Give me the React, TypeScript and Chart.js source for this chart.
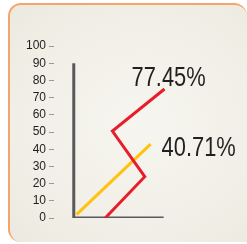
import React, { useEffect, useRef } from "react";
import { Chart, registerables } from "chart.js";

Chart.register(...registerables);

const yTicks = [0, 10, 20, 30, 40, 50, 60, 70, 80, 90, 100];
const redX = [35, 79, 43, 101];
const redY = [0, 24, 50.5, 75];
const yellowX = [3, 85.5];
const yellowY = [2, 43];
const axisX = [0, 0, 100];
const axisY = [90, 0, 0];
const seriesLabels = ["77.45%", "40.71%"];
const labelOffsets = [
  [-33, -3],
  [11, 12],
];

const toPts = (xs: number[], ys: number[]) => xs.map((x, i) => ({ x, y: ys[i] }));

const endLabels = {
  id: "endLabels",
  afterDatasetsDraw(chart: any) {
    const ctx = chart.ctx;
    [0, 1].forEach((di) => {
      const meta = chart.getDatasetMeta(di);
      const last = meta.data[meta.data.length - 1];
      ctx.save();
      ctx.font = '27px "Liberation Sans", Arial, sans-serif';
      ctx.fillStyle = "#231F20";
      ctx.textAlign = "left";
      ctx.textBaseline = "alphabetic";
      ctx.translate(last.x + labelOffsets[di][0], last.y + labelOffsets[di][1]);
      ctx.scale(0.81, 1);
      ctx.fillText(seriesLabels[di], 0, 0);
      ctx.restore();
    });
  },
};

export default function App() {
  const ref = useRef<HTMLCanvasElement | null>(null);
  useEffect(() => {
    if (!ref.current) return;
    const chart = new Chart(ref.current, {
      type: "scatter",
      data: {
        datasets: [
          {
            data: toPts(redX, redY),
            showLine: true,
            borderColor: "#E71E2A",
            borderWidth: 3,
            pointRadius: 0,
            borderJoinStyle: "miter",
            order: 1,
          },
          {
            data: toPts(yellowX, yellowY),
            showLine: true,
            borderColor: "#FFC20E",
            borderWidth: 3,
            pointRadius: 0,
            order: 2,
          },
          {
            data: toPts(axisX, axisY),
            showLine: true,
            borderColor: "#58595B",
            borderWidth: 3,
            pointRadius: 0,
            borderJoinStyle: "miter",
            borderCapStyle: "butt",
            order: 3,
          },
        ],
      },
      options: {
        animation: false,
        responsive: true,
        maintainAspectRatio: false,
        layout: { padding: { left: 0, right: 7, top: 46, bottom: 26 } },
        plugins: { legend: { display: false }, tooltip: { enabled: false } },
        scales: {
          x: { type: "linear", display: false, min: -22, max: 185 },
          y: {
            type: "linear",
            min: 0,
            max: 100,
            afterFit: (s: any) => {
              s.width = 54;
            },
            afterBuildTicks: (s: any) => {
              s.ticks = yTicks.map((v) => ({ value: v }));
            },
            border: { display: false },
            grid: {
              drawOnChartArea: false,
              drawTicks: true,
              tickLength: 5,
              color: "#9A9A9A",
              lineWidth: 1,
            },
            ticks: {
              autoSkip: false,
              padding: 3,
              color: "#1E1E1E",
              font: { family: '"Liberation Sans", Arial, sans-serif', size: 12 },
            },
          },
        },
      },
      plugins: [endLabels],
    });
    return () => chart.destroy();
  }, []);

  return (
    <div style={{ position: "fixed", left: 0, top: 0, width: 247, height: 244, background: "#ffffff", overflow: "hidden" }}>
      <div
        style={{
          position: "absolute",
          left: 8,
          top: 3,
          width: 237,
          height: 237,
          borderTop: "2px solid #F7A46C",
          borderLeft: "2px solid #F7A46C",
          borderTopLeftRadius: 13,
          borderTopRightRadius: 13,
          borderBottomLeftRadius: 13,
          borderBottomRightRadius: 0,
          background: "radial-gradient(ellipse at 55% 50%, #F6F5EF 0%, #F1EFE7 60%, #ECEADF 100%)",
        }}
      />
      <div style={{ position: "absolute", left: 0, top: 0, width: 247, height: 244 }}>
        <canvas ref={ref} />
      </div>
    </div>
  );
}
